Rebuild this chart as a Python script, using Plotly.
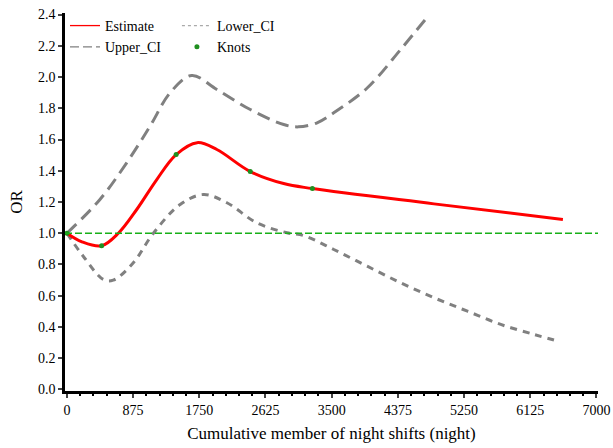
import plotly.graph_objects as go

# Estimate curve
est_x = [0, 200, 459, 680, 923, 1188, 1444, 1722, 1982, 2424, 2865, 3245, 4852, 6556]
est_y = [1.0, 0.945, 0.92, 1.0, 1.152, 1.344, 1.504, 1.58, 1.536, 1.395, 1.318, 1.286, 1.188, 1.088]

# Upper CI
up_x = [0, 437, 790, 1099, 1364, 1650, 1982, 2424, 2865, 3060, 3307, 3527, 3969, 4411, 4790]
up_y = [1.0, 1.216, 1.451, 1.685, 1.899, 2.01, 1.92, 1.792, 1.696, 1.681, 1.707, 1.771, 1.93, 2.176, 2.40]

# Lower CI
lo_x = [0, 216, 481, 613, 878, 1143, 1497, 1806, 2115, 2512, 2910, 3130, 3527, 3969, 4411, 4852, 5294, 5735, 6176, 6521]
lo_y = [1.0, 0.853, 0.704, 0.70, 0.811, 1.0, 1.184, 1.248, 1.195, 1.066, 1.003, 0.985, 0.896, 0.789, 0.683, 0.587, 0.501, 0.416, 0.352, 0.305]

# Knots
knot_x = [0, 459, 1444, 2424, 3245]
knot_y = [1.0, 0.92, 1.504, 1.395, 1.286]

REF = 1.0
x_ticks = [0, 875, 1750, 2625, 3500, 4375, 5250, 6125, 7000]
y_ticks = [0.0, 0.2, 0.4, 0.6, 0.8, 1.0, 1.2, 1.4, 1.6, 1.8, 2.0, 2.2, 2.4]

FONT = "Liberation Serif, Times New Roman, serif"
GRAY = "#808080"
GREEN = "#1f8f1f"

fig = go.Figure()
fig.add_hline(y=REF, line=dict(color="#18b018", width=1.3, dash="7px,3px"))

# data traces (legend handled by thin-line legend entries below)
fig.add_trace(go.Scatter(x=up_x, y=up_y, mode="lines", showlegend=False,
                         line=dict(color=GRAY, width=3, dash="13px,7px", shape="spline")))
fig.add_trace(go.Scatter(x=lo_x, y=lo_y, mode="lines", showlegend=False,
                         line=dict(color=GRAY, width=3, dash="7px,6px", shape="spline")))
fig.add_trace(go.Scatter(x=est_x, y=est_y, mode="lines", showlegend=False,
                         line=dict(color="red", width=3, shape="spline")))
fig.add_trace(go.Scatter(x=knot_x, y=knot_y, mode="markers", showlegend=False,
                         marker=dict(color=GREEN, size=5)))

# legend entries
fig.add_trace(go.Scatter(x=[None], y=[None], mode="lines", name="Estimate",
                         line=dict(color="red", width=1.3), legend="legend"))
fig.add_trace(go.Scatter(x=[None], y=[None], mode="lines", name="Upper_CI",
                         line=dict(color=GRAY, width=1.3, dash="9px,4px"), legend="legend"))
fig.add_trace(go.Scatter(x=[None], y=[None], mode="lines", name="Lower_CI",
                         line=dict(color="#aaaaaa", width=1.3, dash="3px,3px"), legend="legend2"))
fig.add_trace(go.Scatter(x=[None], y=[None], mode="markers", name="Knots",
                         marker=dict(color=GREEN, size=5), legend="legend2"))

fig.update_layout(
    width=613, height=448,
    margin=dict(l=65, r=15, t=13, b=57, autoexpand=False),
    plot_bgcolor="white", paper_bgcolor="white",
    font=dict(family=FONT, size=15, color="black"),
    showlegend=True,
    legend=dict(x=0.0, y=1.008, xanchor="left", yanchor="top",
                bgcolor="rgba(0,0,0,0)", font=dict(size=14, family=FONT),
                traceorder="normal", tracegroupgap=0, itemwidth=30),
    legend2=dict(x=0.21, y=1.008, xanchor="left", yanchor="top",
                 bgcolor="rgba(0,0,0,0)", font=dict(size=14, family=FONT),
                 traceorder="normal", tracegroupgap=0, itemwidth=30),
    xaxis=dict(range=[-25, 7020], tickvals=x_ticks, ticks="outside", ticklen=4,
               tickwidth=1.5, showline=True, linecolor="black", linewidth=2.5,
               showgrid=False, zeroline=False, automargin=False,
               minor=dict(ticks="outside", ticklen=2, dtick=175, tickcolor="black"),
               title=dict(text="Cumulative member of night shifts (night)",
                          font=dict(size=17, family=FONT), standoff=11),
               tickfont=dict(size=14, family=FONT)),
    yaxis=dict(range=[-0.01, 2.41], tickvals=y_ticks, tickformat=".1f",
               ticks="outside", ticklen=4, tickwidth=1.5, showline=True,
               linecolor="black", linewidth=2.5, showgrid=False, zeroline=False,
               automargin=False,
               title=dict(text="OR", font=dict(size=17, family=FONT), standoff=12),
               tickfont=dict(size=14, family=FONT)),
)

fig.write_html("out.html", config={"displayModeBar": False},
               post_script="document.body.style.margin='0';document.body.style.overflow='hidden';")
